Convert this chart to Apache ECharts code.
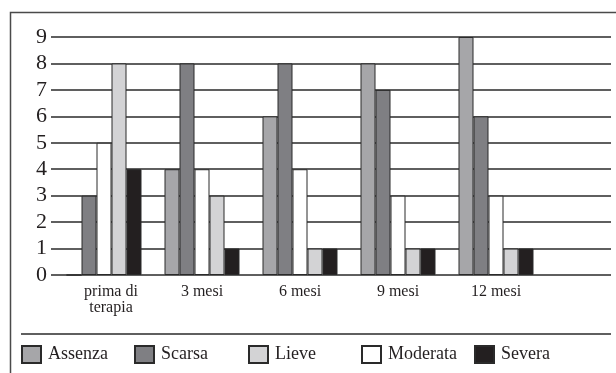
<!DOCTYPE html>
<html><head><meta charset="utf-8">
<script src="https://cdn.jsdelivr.net/npm/echarts@6/dist/echarts.min.js"></script>
<style>html,body{margin:0;padding:0;background:#fff}#c{width:616px;height:373px}</style>
</head><body><div id="c"></div>
<script>
const categories = ['prima di\nterapia', '3 mesi', '6 mesi', '9 mesi', '12 mesi'];
const assenza = [0, 4, 6, 8, 9];
const scarsa = [3, 8, 8, 7, 6];
const moderata = [5, 4, 4, 3, 3];
const lieve = [8, 3, 1, 1, 1];
const severa = [4, 1, 1, 1, 1];
const yTicks = [0, 1, 2, 3, 4, 5, 6, 7, 8, 9];

const FONT = '"Liberation Serif", "DejaVu Serif", serif';
const TXT = '#231f20';
const colors = {Assenza: '#a6a6a9', Scarsa: '#7f7f83', Lieve: '#d3d3d5', Moderata: '#ffffff', Severa: '#231f20'};
const seriesDefs = [['Assenza', assenza], ['Scarsa', scarsa], ['Moderata', moderata], ['Lieve', lieve], ['Severa', severa]];
const legendOrder = ['Assenza', 'Scarsa', 'Lieve', 'Moderata', 'Severa'];
const legendLeft = [21, 134, 248, 361, 474];

const chart = echarts.init(document.getElementById('c'), null, {renderer: 'canvas'});
chart.setOption({
  animation: false,
  backgroundColor: '#fff',
  grid: [
    {left: 51, right: 5, top: 37, bottom: 98},
    {left: 55, width: 490, top: 37, bottom: 98}
  ],
  xAxis: [
    {gridIndex: 0, type: 'category', data: categories, show: false},
    {gridIndex: 1, type: 'category', data: categories,
     axisLine: {show: false}, axisTick: {show: false},
     axisLabel: {fontFamily: FONT, fontSize: 16, color: TXT, margin: 9, lineHeight: 16, interval: 0,
       formatter: (v, i) => i === 0 ? '{f|' + v.replace('\n', '}\n{f|') + '}' : v,
       rich: {f: {fontFamily: FONT, fontSize: 16, color: TXT, lineHeight: 16, padding: [0, 0, 0, 14]}}}}
  ],
  yAxis: [
    {gridIndex: 0, type: 'value', min: yTicks[0], max: yTicks[yTicks.length - 1], interval: 1,
     axisLine: {show: false}, axisTick: {show: false},
     axisLabel: {fontFamily: FONT, fontSize: 22, color: TXT, margin: 4},
     splitLine: {lineStyle: {color: '#2a2a2a', width: 1.5}}},
    {gridIndex: 1, type: 'value', min: 0, max: 9, interval: 1, show: false, splitLine: {show: false}}
  ],
  legend: legendOrder.map((n, i) => ({
    data: [n], left: legendLeft[i], top: 345, icon: 'rect', itemWidth: 19, itemHeight: 17,
    padding: 0, selectedMode: false,
    textStyle: {fontFamily: FONT, fontSize: 18, color: TXT, padding: [0, 0, 0, 2]}
  })),
  graphic: [
    {type: 'polyline', shape: {points: [[10.5, 373], [10.5, 12.5], [616, 12.5]]}, style: {stroke: '#4a4a4a', lineWidth: 1.5, fill: null}},
    {type: 'line', shape: {x1: 21, y1: 334, x2: 611, y2: 334}, style: {stroke: '#2a2a2a', lineWidth: 1.5}}
  ],
  series: seriesDefs.map(([name, vals]) => ({
    name, type: 'bar', data: vals, xAxisIndex: 1, yAxisIndex: 1,
    barWidth: 15, barGap: '0%',
    itemStyle: {color: colors[name], borderColor: '#2a2a2a', borderWidth: 1}
  }))
});
</script></body></html>
